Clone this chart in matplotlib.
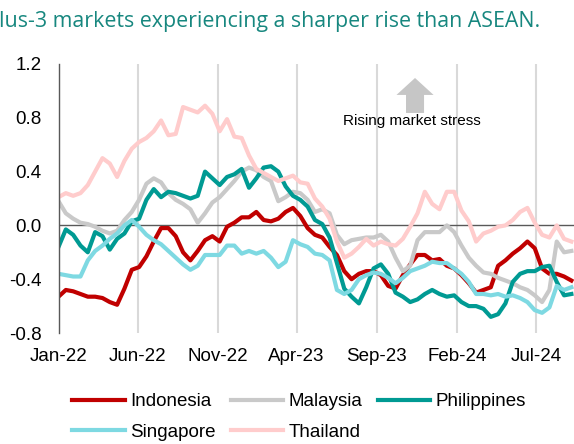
import matplotlib
matplotlib.use('Agg')
import matplotlib.pyplot as plt
import matplotlib.dates as mdates
import matplotlib.patches as mpatches
import pandas as pd

plt.rcParams['font.family'] = ['Liberation Sans', 'DejaVu Sans']
plt.rcParams['axes.unicode_minus'] = False

# fortnightly readings, Jan-22 to Sep-24
dates = pd.date_range('2022-01-01', periods=71, freq='14D')

indonesia = [-0.53, -0.48, -0.49, -0.51, -0.53, -0.53, -0.54, -0.57, -0.59, -0.47,
             -0.33, -0.31, -0.23, -0.12, -0.02, -0.02, -0.08, -0.20, -0.26, -0.19,
             -0.11, -0.08, -0.12, -0.01, 0.02, 0.06, 0.06, 0.10, 0.04, 0.03,
             0.05, 0.10, 0.13, 0.07, -0.02, -0.07, -0.09, -0.16, -0.22, -0.34,
             -0.40, -0.36, -0.34, -0.34, -0.37, -0.45, -0.47, -0.37, -0.29, -0.22,
             -0.22, -0.26, -0.25, -0.30, -0.32, -0.37, -0.43, -0.50, -0.48, -0.46,
             -0.30, -0.26, -0.21, -0.17, -0.12, -0.17, -0.32, -0.36, -0.36, -0.38,
             -0.41]
malaysia = [0.18, 0.09, 0.05, 0.02, 0.01, -0.01, -0.04, -0.06, -0.04, 0.04,
            0.10, 0.19, 0.31, 0.35, 0.32, 0.24, 0.19, 0.16, 0.12, 0.02,
            0.09, 0.17, 0.21, 0.27, 0.33, 0.40, 0.43, 0.41, 0.36, 0.33,
            0.18, 0.21, 0.25, 0.24, 0.19, 0.10, 0.12, 0.09, -0.07, -0.14,
            -0.11, -0.10, -0.09, -0.09, -0.07, -0.12, -0.24, -0.34, -0.30, -0.11,
            -0.05, -0.05, -0.05, 0.00, -0.05, -0.15, -0.24, -0.30, -0.35, -0.36,
            -0.39, -0.41, -0.43, -0.46, -0.48, -0.52, -0.57, -0.48, -0.12, -0.20,
            -0.19]
philippines = [-0.16, -0.03, -0.07, -0.15, -0.20, -0.05, -0.08, -0.18, -0.10, -0.06,
               0.03, 0.05, 0.19, 0.27, 0.21, 0.25, 0.24, 0.22, 0.20, 0.22,
               0.40, 0.35, 0.30, 0.36, 0.38, 0.42, 0.28, 0.35, 0.43, 0.44,
               0.40, 0.29, 0.22, 0.19, 0.14, 0.04, 0.01, -0.09, -0.28, -0.47,
               -0.53, -0.58, -0.46, -0.32, -0.29, -0.36, -0.50, -0.53, -0.57, -0.55,
               -0.51, -0.48, -0.51, -0.53, -0.52, -0.57, -0.60, -0.60, -0.62, -0.68,
               -0.66, -0.58, -0.42, -0.36, -0.34, -0.34, -0.31, -0.30, -0.42, -0.52,
               -0.51]
singapore = [-0.36, -0.37, -0.38, -0.38, -0.26, -0.19, -0.15, -0.10, -0.06, 0.00,
             0.04, -0.01, -0.07, -0.11, -0.14, -0.19, -0.24, -0.29, -0.33, -0.30,
             -0.22, -0.22, -0.22, -0.15, -0.15, -0.21, -0.19, -0.21, -0.19, -0.24,
             -0.31, -0.27, -0.11, -0.14, -0.16, -0.21, -0.22, -0.26, -0.48, -0.51,
             -0.48, -0.40, -0.37, -0.35, -0.36, -0.39, -0.43, -0.39, -0.34, -0.32,
             -0.30, -0.27, -0.28, -0.28, -0.32, -0.36, -0.42, -0.51, -0.51, -0.52,
             -0.51, -0.53, -0.52, -0.54, -0.57, -0.63, -0.65, -0.61, -0.45, -0.48,
             -0.46]
thailand = [0.21, 0.24, 0.22, 0.24, 0.30, 0.40, 0.50, 0.46, 0.36, 0.48,
            0.57, 0.62, 0.65, 0.70, 0.78, 0.67, 0.68, 0.88, 0.86, 0.84,
            0.89, 0.83, 0.70, 0.79, 0.66, 0.65, 0.52, 0.42, 0.39, 0.36,
            0.33, 0.35, 0.37, 0.32, 0.31, 0.20, 0.14, 0.05, -0.12, -0.24,
            -0.21, -0.16, -0.10, -0.15, -0.12, -0.14, -0.15, -0.10, -0.01, 0.09,
            0.25, 0.16, 0.12, 0.25, 0.25, 0.11, 0.03, -0.12, -0.06, -0.04,
            -0.01, 0.00, 0.04, 0.10, 0.13, 0.02, -0.07, -0.09, 0.00, -0.10,
            -0.12]

series = [
    ('Indonesia', indonesia, '#C00000'),
    ('Malaysia', malaysia, '#C9C9C9'),
    ('Philippines', philippines, '#009A93'),
    ('Singapore', singapore, '#7ED9E2'),
    ('Thailand', thailand, '#FFCCCC'),
]

y_ticks = [-0.8, -0.4, 0.0, 0.4, 0.8, 1.2]
y_labels = ['-0.8', '-0.4', '0.0', '0.4', '0.8', '1.2']
x_ticks = pd.to_datetime(['2022-01-01', '2022-06-01', '2022-11-01', '2023-04-01',
                          '2023-09-01', '2024-02-01', '2024-07-01'])

fig = plt.figure(figsize=(5.74, 4.44), dpi=100)
ax = fig.add_axes([58.5 / 574, 1 - 333 / 444, 1 - 58.5 / 574, (333 - 64) / 444])

lines = {}
for name, vals, col in series:
    lines[name], = ax.plot(dates, vals, color=col, lw=3, label=name,
                           solid_joinstyle='round', zorder=3)

ax.axhline(0, color='#595959', lw=1, zorder=2)

ax.set_ylim(-0.8, 1.2)
ax.set_xlim(pd.Timestamp('2022-01-01'), pd.Timestamp('2024-09-12'))
ax.set_yticks(y_ticks)
ax.set_yticklabels(y_labels)
ax.set_xticks(x_ticks)
ax.xaxis.set_major_formatter(mdates.DateFormatter('%b-%y'))
ax.grid(axis='x', color='#D9D9D9', lw=1.5, zorder=1)
ax.tick_params(axis='both', length=0, labelsize=13.5, colors='black')
ax.tick_params(axis='y', pad=12)
ax.tick_params(axis='x', pad=11)
for s in ['top', 'right', 'bottom']:
    ax.spines[s].set_visible(False)
ax.spines['left'].set_color('#595959')
ax.spines['left'].set_linewidth(1)
ax.spines['left'].set_zorder(4)

# arrow + note
arrow = mpatches.FancyArrow(0.6916, 0.818, 0, 0.13, width=0.035, head_width=0.072,
                            head_length=0.063, length_includes_head=True,
                            transform=ax.transAxes, color='#C6C6C6', lw=0,
                            zorder=5)
ax.add_patch(arrow)
ax.text(0.686, 0.788, 'Rising market stress', transform=ax.transAxes,
        ha='center', va='center', fontsize=11, zorder=5)

fig.text(-0.002, 1 - 22 / 444, 'lus-3 markets experiencing a sharper rise than ASEAN.',
         ha='left', va='center', fontsize=15.4, color='#17877F',
         family=['Open Sans', 'DejaVu Sans'])

order = ['Indonesia', 'Singapore', 'Malaysia', 'Thailand', 'Philippines']
fig.legend([lines[n] for n in order], order, ncol=3, frameon=False,
           loc='upper left', bbox_to_anchor=(72 / 574, 1 - 393 / 444),
           fontsize=13.5, handlelength=2.8, handletextpad=0.3,
           columnspacing=0.8, labelspacing=0.72, borderpad=0, borderaxespad=0)

fig.savefig('out.png', dpi=100)
